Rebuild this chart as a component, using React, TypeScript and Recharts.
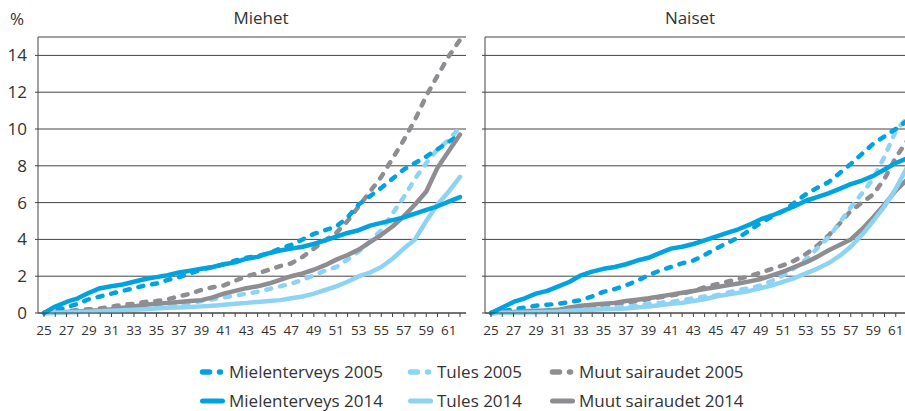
import React from 'react';
import { LineChart, Line, XAxis, YAxis, CartesianGrid } from 'recharts';

const ages = [25, 26, 27, 28, 29, 30, 31, 32, 33, 34, 35, 36, 37, 38, 39, 40, 41, 42, 43, 44, 45, 46, 47, 48, 49, 50, 51, 52, 53, 54, 55, 56, 57, 58, 59, 60, 61, 62];
const yTicks = [0, 2, 4, 6, 8, 10, 12, 14];

// Miehet
const mMielenterveys2005 = [0, 0.15, 0.3, 0.5, 0.75, 0.9, 1.05, 1.2, 1.35, 1.5, 1.6, 1.8, 1.95, 2.15, 2.35, 2.5, 2.65, 2.85, 3.0, 3.1, 3.25, 3.5, 3.7, 4.0, 4.3, 4.5, 4.7, 5.2, 5.9, 6.35, 6.8, 7.3, 7.8, 8.15, 8.5, 8.9, 9.3, 9.7];
const mTules2005 = [0, 0.02, 0.04, 0.06, 0.08, 0.1, 0.12, 0.15, 0.2, 0.25, 0.3, 0.35, 0.45, 0.55, 0.65, 0.75, 0.85, 0.95, 1.05, 1.15, 1.3, 1.45, 1.6, 1.8, 2.05, 2.3, 2.5, 2.9, 3.35, 3.9, 4.5, 5.4, 6.3, 7.3, 8.15, 8.9, 9.4, 10.1];
const mMuut2005 = [0, 0.05, 0.1, 0.15, 0.2, 0.25, 0.35, 0.45, 0.5, 0.6, 0.65, 0.75, 0.9, 1.05, 1.25, 1.4, 1.5, 1.75, 2.0, 2.15, 2.35, 2.55, 2.7, 3.05, 3.5, 3.95, 4.35, 5.0, 5.8, 6.6, 7.4, 8.4, 9.4, 10.5, 11.8, 12.9, 13.95, 14.85];
const mMielenterveys2014 = [0, 0.35, 0.6, 0.8, 1.1, 1.35, 1.45, 1.55, 1.7, 1.85, 1.95, 2.05, 2.2, 2.3, 2.4, 2.5, 2.65, 2.75, 2.95, 3.05, 3.25, 3.4, 3.5, 3.6, 3.75, 3.95, 4.15, 4.35, 4.5, 4.75, 4.9, 5.05, 5.2, 5.4, 5.6, 5.8, 6.05, 6.3];
const mTules2014 = [0, 0.02, 0.03, 0.05, 0.07, 0.1, 0.12, 0.15, 0.18, 0.2, 0.25, 0.28, 0.3, 0.33, 0.36, 0.4, 0.45, 0.5, 0.55, 0.6, 0.65, 0.7, 0.8, 0.9, 1.05, 1.25, 1.45, 1.7, 2.0, 2.2, 2.5, 2.95, 3.5, 4.0, 5.0, 5.9, 6.6, 7.4];
const mMuut2014 = [0, 0.02, 0.05, 0.08, 0.12, 0.15, 0.2, 0.28, 0.35, 0.45, 0.5, 0.55, 0.6, 0.65, 0.7, 0.85, 1.05, 1.2, 1.35, 1.45, 1.6, 1.8, 2.0, 2.15, 2.35, 2.6, 2.9, 3.15, 3.45, 3.85, 4.25, 4.7, 5.25, 5.9, 6.6, 7.9, 8.8, 9.7];

// Naiset
const nMielenterveys2005 = [0, 0.1, 0.2, 0.3, 0.4, 0.45, 0.5, 0.6, 0.7, 0.9, 1.15, 1.3, 1.5, 1.75, 2.05, 2.3, 2.5, 2.7, 2.85, 3.15, 3.5, 3.8, 4.1, 4.5, 4.9, 5.25, 5.55, 6.0, 6.45, 6.8, 7.1, 7.6, 8.1, 8.65, 9.2, 9.6, 10.0, 10.45];
const nTules2005 = [0, 0.01, 0.02, 0.03, 0.05, 0.07, 0.09, 0.12, 0.15, 0.2, 0.25, 0.3, 0.35, 0.4, 0.5, 0.55, 0.6, 0.7, 0.8, 0.9, 0.95, 1.1, 1.25, 1.35, 1.5, 1.75, 2.05, 2.45, 2.9, 3.5, 4.1, 4.9, 5.75, 6.5, 7.3, 8.5, 9.9, 10.6];
const nMuut2005 = [0, 0.02, 0.05, 0.08, 0.1, 0.13, 0.15, 0.2, 0.25, 0.3, 0.35, 0.45, 0.55, 0.65, 0.75, 0.85, 0.95, 1.05, 1.2, 1.4, 1.55, 1.7, 1.85, 2.0, 2.2, 2.4, 2.6, 2.85, 3.2, 3.65, 4.2, 4.85, 5.55, 6.0, 6.45, 7.3, 8.45, 9.35];
const nMielenterveys2014 = [0, 0.3, 0.6, 0.8, 1.05, 1.2, 1.45, 1.7, 2.05, 2.25, 2.4, 2.5, 2.65, 2.85, 3.0, 3.25, 3.5, 3.6, 3.75, 3.95, 4.15, 4.35, 4.55, 4.8, 5.1, 5.3, 5.55, 5.8, 6.1, 6.3, 6.5, 6.75, 7.0, 7.2, 7.45, 7.8, 8.15, 8.4];
const nTules2014 = [0, 0.01, 0.02, 0.03, 0.04, 0.06, 0.08, 0.12, 0.15, 0.18, 0.2, 0.22, 0.25, 0.3, 0.35, 0.42, 0.5, 0.55, 0.65, 0.75, 0.9, 1.0, 1.1, 1.2, 1.35, 1.5, 1.7, 1.9, 2.15, 2.4, 2.7, 3.1, 3.6, 4.25, 5.0, 5.8, 6.75, 7.9];
const nMuut2014 = [0, 0.03, 0.06, 0.1, 0.12, 0.14, 0.17, 0.3, 0.4, 0.45, 0.5, 0.55, 0.65, 0.72, 0.8, 0.9, 1.0, 1.1, 1.2, 1.3, 1.4, 1.5, 1.6, 1.72, 1.85, 2.05, 2.25, 2.5, 2.75, 3.05, 3.4, 3.7, 4.0, 4.55, 5.2, 5.9, 6.65, 7.25];

const BLUE = '#00a3e0';
const LIGHT = '#8dd3f4';
const GRAY = '#8e8e92';
const TEXT = '#333333';
const FONT = '"Open Sans", sans-serif';

const seriesDefs = [
  { key: 'muut05', name: 'Muut sairaudet 2005', color: GRAY, dashed: true },
  { key: 'tules05', name: 'Tules 2005', color: LIGHT, dashed: true },
  { key: 'miel05', name: 'Mielenterveys 2005', color: BLUE, dashed: true },
  { key: 'muut14', name: 'Muut sairaudet 2014', color: GRAY, dashed: false },
  { key: 'tules14', name: 'Tules 2014', color: LIGHT, dashed: false },
  { key: 'miel14', name: 'Mielenterveys 2014', color: BLUE, dashed: false },
];

const legendOrder = [
  ['miel05', 'tules05', 'muut05'],
  ['miel14', 'tules14', 'muut14'],
];

const miehetData = ages.map((age, i) => ({
  age,
  miel05: mMielenterveys2005[i],
  tules05: mTules2005[i],
  muut05: mMuut2005[i],
  miel14: mMielenterveys2014[i],
  tules14: mTules2014[i],
  muut14: mMuut2014[i],
}));

const naisetData = ages.map((age, i) => ({
  age,
  miel05: nMielenterveys2005[i],
  tules05: nTules2005[i],
  muut05: nMuut2005[i],
  miel14: nMielenterveys2014[i],
  tules14: nTules2014[i],
  muut14: nMuut2014[i],
}));

const DASH = '5 9';

const XTick = (props: any) => {
  const { x, y, payload } = props;
  if (payload.value % 2 === 0) return <g />;
  return (
    <text x={x} y={y} dy="0.71em" textAnchor="middle" fontSize={13.5} fill={TEXT} fontFamily={FONT}>
      {payload.value}
    </text>
  );
};

const EmptyTick = () => <g />;

const Panel = ({ data, showYLabels }: { data: any[]; showYLabels: boolean }) => (
  <LineChart width={470} height={343} data={data} margin={{ top: 37, right: 4, left: 0, bottom: 0 }}>
    <CartesianGrid horizontal vertical={false} stroke="#444" strokeWidth={1} />
    <XAxis
      dataKey="age"
      type="category"
      interval={0}
      height={30}
      padding={{ left: 6, right: 6 }}
      tick={<XTick />}
      tickSize={4}
      tickMargin={8}
      axisLine={{ stroke: '#444' }}
      tickLine={{ stroke: '#444' }}
    />
    <XAxis xAxisId="top" dataKey="age" orientation="top" height={0} tick={false} tickLine={false} axisLine={{ stroke: '#444' }} />
    <YAxis
      domain={[0, 15]}
      ticks={yTicks}
      width={38}
      tickSize={3}
      tickMargin={8}
      tick={showYLabels ? { fontSize: 17, fill: TEXT, fontFamily: FONT } : <EmptyTick />}
      axisLine={{ stroke: '#444' }}
      tickLine={{ stroke: '#444' }}
    />
    <YAxis yAxisId="right" orientation="right" width={0} domain={[0, 15]} tick={false} tickLine={false} axisLine={{ stroke: '#777' }} />
    {seriesDefs.map((s) => (
      <Line
        key={s.key}
        type="linear"
        dataKey={s.key}
        name={s.name}
        stroke={s.color}
        strokeWidth={4.5}
        strokeDasharray={s.dashed ? DASH : undefined}
        strokeLinecap="round"
        strokeLinejoin="round"
        dot={false}
        activeDot={false}
        isAnimationActive={false}
      />
    ))}
  </LineChart>
);

const LegendIcon = ({ color, dashed }: { color: string; dashed: boolean }) => (
  <svg width={30} height={10} style={{ display: 'block' }}>
    {dashed ? (
      <line x1={5.5} y1={5} x2={24} y2={5} stroke={color} strokeWidth={5.5} strokeLinecap="round" strokeDasharray="7 10 1 10" />
    ) : (
      <line x1={5.5} y1={5} x2={25.5} y2={5} stroke={color} strokeWidth={5} strokeLinecap="round" />
    )}
  </svg>
);

const colLefts = [197, 405, 547];

export default function App() {
  return (
    <div style={{ position: 'absolute', left: 0, top: 0, width: 905, height: 411, overflow: 'hidden', background: '#fff', fontFamily: FONT, color: TEXT }}>
      <div style={{ position: 'absolute', left: 0, top: 0 }}>
        <Panel data={miehetData} showYLabels />
      </div>
      <div style={{ position: 'absolute', left: 447, top: 0 }}>
        <Panel data={naisetData} showYLabels={false} />
      </div>
      <div style={{ position: 'absolute', left: 10, top: 7, fontSize: 17, lineHeight: '24px' }}>%</div>
      <div style={{ position: 'absolute', left: 161, width: 200, top: 6, textAlign: 'center', fontSize: 17, lineHeight: '24px' }}>Miehet</div>
      <div style={{ position: 'absolute', left: 590, width: 200, top: 6, textAlign: 'center', fontSize: 17, lineHeight: '24px' }}>Naiset</div>
      {legendOrder.map((row, ri) =>
        row.map((key, ci) => {
          const s = seriesDefs.find((d) => d.key === key)!;
          return (
            <div key={key} style={{ position: 'absolute', left: colLefts[ci], top: 362 + ri * 29, height: 20 }}>
              <div style={{ position: 'absolute', left: 0, top: 5 }}>
                <LegendIcon color={s.color} dashed={s.dashed} />
              </div>
              <div style={{ position: 'absolute', left: 32, top: 0, fontSize: 17, lineHeight: '20px', whiteSpace: 'nowrap' }}>{s.name}</div>
            </div>
          );
        })
      )}
    </div>
  );
}
